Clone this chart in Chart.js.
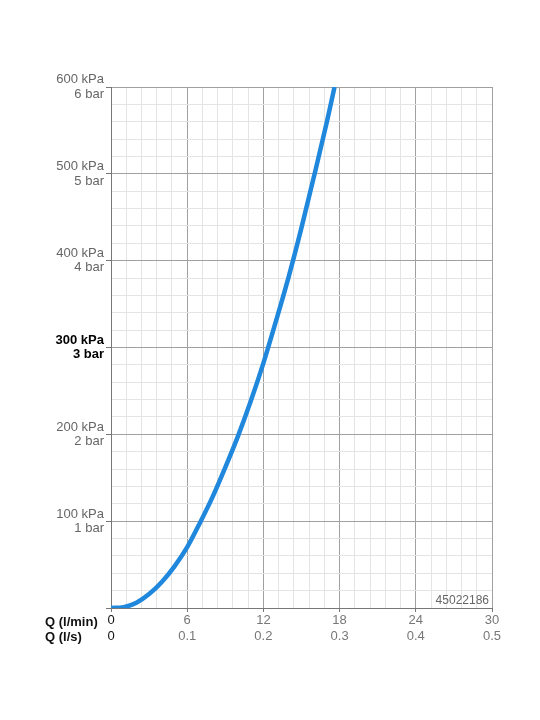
<!DOCTYPE html>
<html>
<head>
<meta charset="utf-8">
<script src="https://cdn.jsdelivr.net/npm/chart.js@4/dist/chart.umd.min.js"></script>
<style>
  html, body { margin: 0; padding: 0; background: #fff; }
  canvas { display: block; }
</style>
</head>
<body>
<canvas id="flow-chart" width="540" height="720"></canvas>
<script>
// flow (l/min) vs pressure (kPa)
const flow = [0, 1, 2, 3, 4, 5, 6, 7, 8, 9, 10, 11, 12, 13, 14, 15, 16, 17, 17.6];
const pressure = [0, 1, 6, 16, 30, 48, 70, 98, 128, 162, 198, 238, 282, 331, 382, 438, 498, 560, 600];

// axis labels
const flowTicks = [0, 6, 12, 18, 24, 30];
const flowLps = ['0', '0.1', '0.2', '0.3', '0.4', '0.5'];
const kpaTicks = [100, 200, 300, 400, 500, 600];
const kpaLabels = ['100 kPa', '200 kPa', '300 kPa', '400 kPa', '500 kPa', '600 kPa'];
const barLabels = ['1 bar', '2 bar', '3 bar', '4 bar', '5 bar', '6 bar'];
const rowTitles = ['Q (l/min)', 'Q (l/s)'];
const codeText = '45022186';

Chart.defaults.font.family = "'Liberation Sans', Arial, sans-serif";
Chart.defaults.font.size = 13;

const isMajor = (v, step) => Math.abs(v / step - Math.round(v / step)) < 1e-6;

const extraText = {
  id: 'extraText',
  afterDraw(chart) {
    const { ctx, chartArea } = chart;
    ctx.save();
    ctx.font = "bold 13px 'Liberation Sans', Arial, sans-serif";
    ctx.fillStyle = '#111';
    ctx.textAlign = 'left';
    ctx.textBaseline = 'middle';
    ctx.fillText(rowTitles[0], 45, chartArea.bottom + 14);
    ctx.fillText(rowTitles[1], 45, chartArea.bottom + 29);
    ctx.font = "12px 'Liberation Sans', Arial, sans-serif";
    ctx.fillStyle = '#666';
    ctx.textAlign = 'right';
    ctx.textBaseline = 'bottom';
    ctx.fillText(codeText, chartArea.right - 3, chartArea.bottom - 1);
    ctx.restore();
  }
};

new Chart(document.getElementById('flow-chart'), {
  type: 'line',
  data: {
    datasets: [{
      data: flow.map((q, i) => ({ x: q, y: pressure[i] })),
      borderColor: '#1f87dc',
      borderWidth: 4.5,
      pointRadius: 0,
      cubicInterpolationMode: 'monotone',
      fill: false
    }]
  },
  options: {
    responsive: false,
    animation: false,
    layout: { padding: { top: 87, right: 48, left: 0, bottom: 0 } },
    plugins: { legend: { display: false }, tooltip: { enabled: false } },
    scales: {
      x: {
        type: 'linear',
        min: 0,
        max: 30,
        afterFit: (s) => { s.height = 112; },
        border: { color: '#777', width: 1 },
        grid: {
          color: (c) => isMajor(c.tick.value, 6) ? '#a0a0a0' : '#e4e4e4',
          tickColor: (c) => isMajor(c.tick.value, 6) ? '#777' : 'rgba(0,0,0,0)',
          tickLength: 4
        },
        ticks: {
          stepSize: 1.2,
          autoSkip: false,
          maxRotation: 0,
          padding: 1,
          color: (c) => c.tick.value === 0 ? '#111' : '#777',
          callback: (v) => {
            const i = flowTicks.findIndex((t) => Math.abs(t - v) < 1e-6);
            return i < 0 ? '' : [String(flowTicks[i]), flowLps[i]];
          }
        }
      },
      y: {
        min: 0,
        max: 600,
        afterFit: (s) => { s.width = 111; },
        border: { color: '#777', width: 1 },
        grid: {
          color: (c) => isMajor(c.tick.value, 100) ? '#a0a0a0' : '#e4e4e4',
          tickColor: (c) => isMajor(c.tick.value, 100) ? '#777' : 'rgba(0,0,0,0)',
          tickLength: 5
        },
        ticks: {
          stepSize: 20,
          autoSkip: false,
          padding: 2,
          color: (c) => c.tick.value === 300 ? '#000' : '#666',
          font: (c) => ({ size: 13, lineHeight: 1.1, weight: c.tick && c.tick.value === 300 ? 'bold' : 'normal' }),
          callback: (v) => {
            const i = kpaTicks.indexOf(Math.round(v));
            return i < 0 || !isMajor(v, 100) ? '' : [kpaLabels[i], barLabels[i]];
          }
        }
      }
    }
  },
  plugins: [extraText]
});
</script>
</body>
</html>
